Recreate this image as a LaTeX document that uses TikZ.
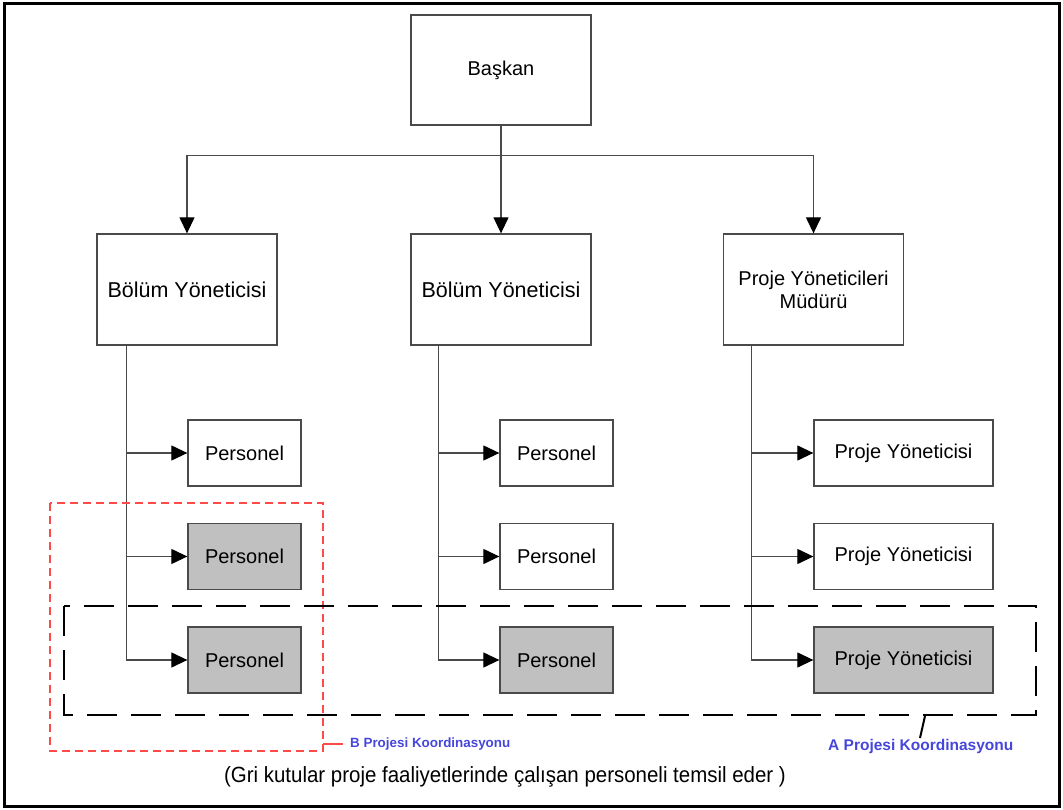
\documentclass[tikz,border=0pt]{standalone}
\usepackage{fontspec}
\setmainfont{Liberation Sans}
\usetikzlibrary{arrows.meta,calc}
\definecolor{boxline}{HTML}{4A4A4A}
\definecolor{shade}{HTML}{C0C0C0}
\definecolor{labelblue}{HTML}{4646DC}
\definecolor{frameRed}{HTML}{FF4A4A}
\tikzset{
  box/.style={draw=boxline,line width=1.3pt,fill=white,font=\fontsize{20}{23}\selectfont,align=center,inner sep=0pt},
  big/.style={box,minimum width=180pt,minimum height=110pt},
  head/.style={big,minimum height=111pt},
  small/.style={box,minimum width=113pt,minimum height=66pt},
  wide/.style={box,minimum width=179pt,minimum height=66pt},
  grey/.style={fill=shade},
  link/.style={draw=boxline,line width=1.2pt,-{Triangle[width=15pt,length=16pt,fill=black,color=black]}},
  tag/.style={font=\bfseries\fontsize{13.4}{15}\selectfont,text=labelblue,inner sep=0pt,anchor=west}
}
\begin{document}
\begin{tikzpicture}[x=1pt,y=-1pt]
  \useasboundingbox (0,0) rectangle (1063,810);
  \draw[line width=3pt] (4,4) rectangle (1059,806);

  % top level
  \node[big] (top) at (501,70) {Başkan};
  % department heads
  \node[head,font=\fontsize{21.5}{24}\selectfont] (m1) at (187,289.5) {Bölüm Yöneticisi};
  \node[head,font=\fontsize{21.5}{24}\selectfont] (m2) at (501,289.5) {Bölüm Yöneticisi};
  \node[head] (m3) at (813.5,289.5) {Proje Yöneticileri\\Müdürü};

  % staff boxes
  \node[small] (a1) at (244.5,453) {Personel};
  \node[small,grey] (a2) at (244.5,556.5) {Personel};
  \node[small,grey] (a3) at (244.5,660) {Personel};
  \node[small] (b1) at (556.5,453) {Personel};
  \node[small] (b2) at (556.5,556.5) {Personel};
  \node[small,grey] (b3) at (556.5,660) {Personel};
  \node[wide] (c1) at (903.5,453) {Proje Yöneticisi};
  \node[wide] (c2) at (903.5,556.5) {Proje Yöneticisi};
  \node[wide,grey] (c3) at (903.5,660) {Proje Yöneticisi};

  % top-level branches
  \coordinate (bus) at ($(top.south)+(0,30)$);
  \draw[link] (top.south) -- (m2.north);
  \draw[link] (bus) -| (m1.north);
  \draw[link] (bus) -| (m3.north);

  % spines down each column
  \coordinate (sa) at ($(m1.south west)+(30,0)$);
  \coordinate (sb) at ($(m2.south west)+(28,0)$);
  \coordinate (sc) at ($(m3.south west)+(29,0)$);
  \draw[link] (sa) |- (a3.west);
  \draw[link] (sa |- a1.west) -- (a1.west);
  \draw[link] (sa |- a2.west) -- (a2.west);
  \draw[link] (sb) |- (b3.west);
  \draw[link] (sb |- b1.west) -- (b1.west);
  \draw[link] (sb |- b2.west) -- (b2.west);
  \draw[link] (sc) |- (c3.west);
  \draw[link] (sc |- c1.west) -- (c1.west);
  \draw[link] (sc |- c2.west) -- (c2.west);

  % project coordination frames
  \draw[frameRed,line width=1.2pt,dash pattern=on 8pt off 5pt] (50,503) rectangle (323,751);
  \draw[line width=2pt,dash pattern=on 30pt off 14pt] (64,606) rectangle (1036,715);

  % labels for the frames
  \coordinate (bl) at (323,744);
  \node[tag] (btag) at (350,744) {B Projesi Koordinasyonu};
  \draw[frameRed,line width=2pt] (bl) -- ++(20,0);
  \coordinate (al) at (925,716);
  \node[tag,font=\bfseries\fontsize{15.5}{17}\selectfont] (atag) at (828,746) {A Projesi Koordinasyonu};
  \draw[line width=2pt] (al) -- (920,738);

  % caption
  \node[font=\fontsize{22}{26}\selectfont,inner sep=0pt] (cap) at (505,777)
    {\scalebox{0.93}[1]{(Gri kutular proje faaliyetlerinde çalışan personeli temsil eder )}};
\end{tikzpicture}
\end{document}
